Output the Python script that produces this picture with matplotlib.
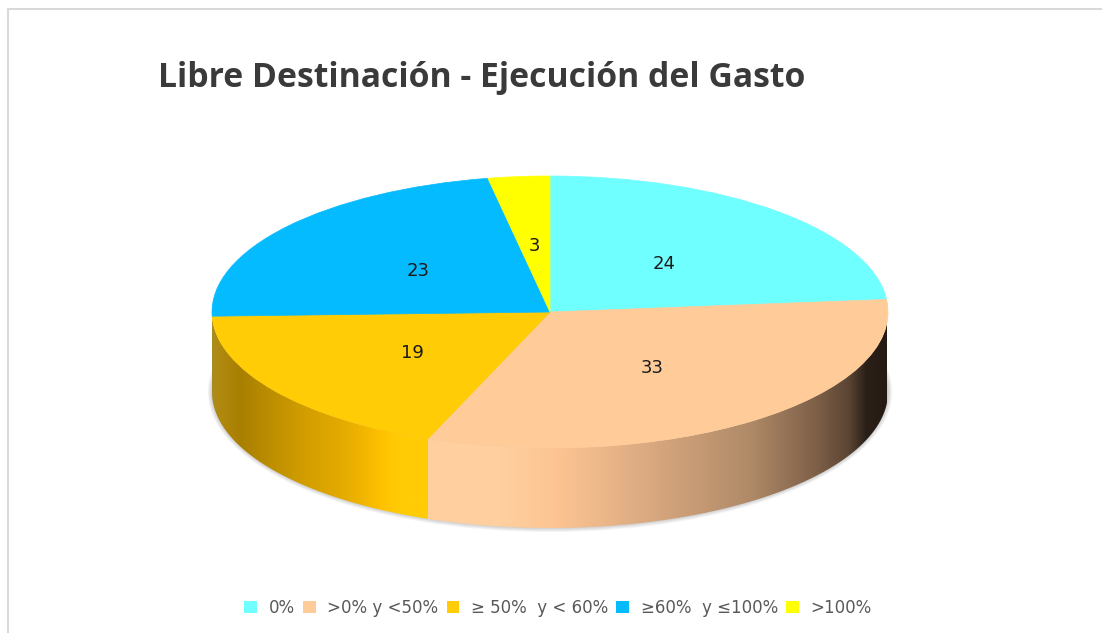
import numpy as np
import matplotlib
matplotlib.use('Agg')
import matplotlib.pyplot as plt
from matplotlib.colors import LinearSegmentedColormap
from matplotlib.lines import Line2D
from matplotlib.patches import Ellipse, Patch, Polygon

plt.rcParams['font.family'] = ['Open Sans', 'DejaVu Sans']

title = 'Libre Destinación - Ejecución del Gasto'
labels = ['0%', '>0% y <50%', '≥ 50%  y < 60%', '≥60%  y ≤100%', '>100%']
values = [24, 33, 19, 23, 3]
colors = ['#6FFFFF', '#FFCC99', '#FFCC05', '#05BBFF', '#FFFF00']

W, H = 1102, 633
cx, cy, rx, ry, depth = 550, 312, 338, 136, 80

# side shading, left to right, in figure pixels
orange_x = [212, 218, 240, 300, 350, 380, 400, 428]
orange_c = ['#a88a20', '#b08a10', '#a87f00', '#cf9c00', '#e8ae00', '#ffc000', '#ffcc05', '#ffcc05']
peach_x = [428, 500, 560, 633, 750, 817, 850, 867, 887]
peach_c = ['#ffcf9f', '#ffd09f', '#fcc391', '#e0ae84', '#b08a68', '#7e6048', '#5a4433', '#2a2018', '#251b14']


def ramp(stops, cols):
    pos = [(s - stops[0]) / (stops[-1] - stops[0]) for s in stops]
    return LinearSegmentedColormap.from_list('side', list(zip(pos, cols)))


def side(start, end, stops, cols):
    t = np.radians(np.linspace(start, end, 200))
    xs = np.cos(t)
    ys = np.sin(t)
    pts = np.r_[np.c_[xs, ys], np.c_[xs, ys - depth / ry][::-1]]
    poly = Polygon(pts, closed=True, facecolor='none', edgecolor='none')
    ax.add_patch(poly)
    grad = ramp(stops, cols)(np.linspace(0, 1, 256))[None, :, :3]
    im = ax.imshow(grad, extent=((stops[0] - cx) / rx, (stops[-1] - cx) / rx,
                                 -1 - depth / ry, 0.1),
                   aspect='auto', zorder=2, interpolation='bilinear')
    im.set_clip_path(poly)


fig = plt.figure(figsize=(W / 100, H / 100), dpi=100, facecolor='white')
ax = fig.add_axes([0, 0, 1, 1])

total = sum(values)
wedges, texts, autotexts = ax.pie(values, colors=colors, startangle=90, counterclock=False,
                                  radius=1, center=(0, 0), pctdistance=0.5,
                                  autopct=lambda p: '%d' % round(p * total / 100),
                                  textprops={'color': '#1a1a1a', 'fontsize': 13,
                                             'family': 'DejaVu Sans'})
for w, c in zip(wedges, colors):
    w.set_zorder(3)
    w.set_edgecolor(c)
    w.set_linewidth(0.5)
for t in autotexts:
    t.set_zorder(4)
    t.set_y(t.get_position()[1] - 2 / ry)

# soft shadow under the rim
for i in range(6):
    ax.add_patch(Ellipse((0, -depth / ry), 2 + i * 0.005, 2 + i * 0.012, facecolor='black',
                         alpha=0.035, edgecolor='none', zorder=1))

# only the orange and peach slices show a side
orange_end = 90 - sum(values[:2]) / total * 360
side(-180, orange_end, orange_x, orange_c)
side(orange_end, 0, peach_x, peach_c)

ax.set_aspect('auto')
ax.set_xlim((0 - cx) / rx, (W - cx) / rx)
ax.set_ylim((cy - H) / ry, cy / ry)
ax.axis('off')

fig.text(158 / W, 1 - 78 / H, title, fontsize=24.3, fontweight='bold', color='#3a3a3a',
         ha='left', va='center')

handles = [Patch(facecolor=c, edgecolor='none') for c in colors]
ax.legend(handles, labels, ncol=5, frameon=False, loc='center', prop={'family': 'DejaVu Sans', 'size': 12},
          bbox_to_anchor=(558 / W, 1 - 608 / H), labelcolor='#595959',
          handlelength=0.75, handleheight=0.75, handletextpad=0.7, columnspacing=0.5)

# chart border
fig.add_artist(Line2D([8 / W, 8 / W, 1], [0, 1 - 9 / H, 1 - 9 / H], color='#d9d9d9', lw=1.5))

fig.savefig('out.png', dpi=100)
